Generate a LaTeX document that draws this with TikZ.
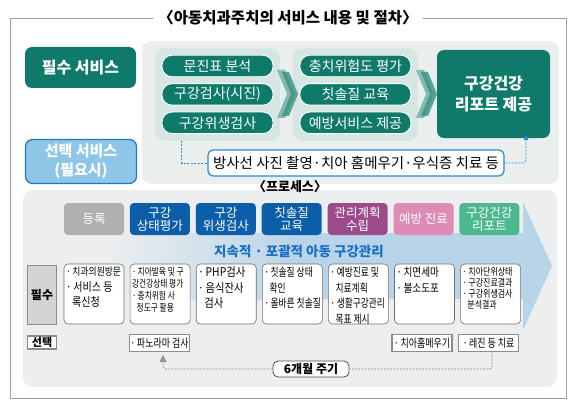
\documentclass[tikz,border=0pt]{standalone}
\usepackage{fontspec}
\setmainfont{Noto Sans CJK KR}
\usepackage{graphicx}
\usetikzlibrary{arrows.meta,positioning,fit,backgrounds}
\definecolor{framegray}{RGB}{160,160,160}
\definecolor{topgray}  {RGB}{234,238,237}
\definecolor{procgray} {RGB}{236,238,239}
\definecolor{grpteal}  {RGB}{214,230,226}
\definecolor{svcteal}  {RGB}{16,122,106}
\definecolor{chevlt}   {RGB}{128,186,176}
\definecolor{chevdk}   {RGB}{60,145,130}
\definecolor{optfill}  {RGB}{142,198,232}
\definecolor{optline}  {RGB}{32,120,190}
\definecolor{xrayline} {RGB}{40,140,210}
\definecolor{arrowblue}{RGB}{184,212,232}
\definecolor{hdgray}   {RGB}{176,176,176}
\definecolor{hdblue}   {RGB}{12,94,168}
\definecolor{hdpurple} {RGB}{156,74,138}
\definecolor{hdpink}   {RGB}{222,140,182}
\definecolor{hdgreen}  {RGB}{76,184,144}
\definecolor{mottoblue}{RGB}{28,110,196}
\definecolor{cellgray} {RGB}{110,110,110}
\definecolor{boxgray}  {RGB}{140,140,140}
% cell text: [font size]{squeeze}{lines}
\newcommand{\cellt}[3][12]{\makebox[56pt][l]{\scalebox{#2}[1]{%
  \parbox[c][54pt][t]{100pt}{\raggedright\fontsize{#1}{15.5}\selectfont #3}}}}
\newcommand{\squeeze}[1]{\scalebox{0.78}[1]{#1}}
\tikzset{
  titlebox/.style={fill=white,inner xsep=5pt,inner ysep=2pt,
                   font=\bfseries\fontsize{15.5}{17}\selectfont},
  svc/.style={fill=svcteal,rounded corners=7pt,text=white,align=center,
              inner sep=0pt,font=\bfseries\fontsize{16}{18}\selectfont},
  optsvcbox/.style={svc,fill=optfill,draw=optline,line width=1.2pt,
                    font=\bfseries\fontsize{15}{19}\selectfont},
  pill/.style={draw=white,line width=0.9pt,fill=svcteal,rounded corners=10pt,
               minimum width=111pt,minimum height=21.5pt,inner sep=0pt,
               text=white,font=\fontsize{14}{15}\selectfont},
  grp/.style={fill=grpteal,rounded corners=9pt,inner sep=6.5pt},
  xraybox/.style={draw=xrayline,line width=1.2pt,fill=white,rounded corners=5pt,
                  minimum width=296pt,minimum height=26pt,inner sep=0pt,
                  font=\fontsize{14.5}{16}\selectfont},
  dashblue/.style={draw=xrayline,line width=0.6pt,dash pattern=on 2pt off 1.5pt},
  hdbox/.style={minimum width=60pt,minimum height=32pt,inner sep=0pt,
                rounded corners=4pt,text=white,align=center,
                font=\fontsize{12.5}{13}\selectfont},
  cell/.style={draw=cellgray,line width=0.6pt,fill=white,rounded corners=4pt,
               minimum width=60pt,minimum height=60pt,inner sep=2pt},
  lblreq/.style={draw=boxgray,line width=1.3pt,fill=black!17,
                 minimum width=29pt,minimum height=59pt,inner sep=0pt,
                 font=\bfseries\fontsize{12}{13}\selectfont},
  lblopt/.style={lblreq,fill=white,minimum height=13pt,
                 font=\bfseries\fontsize{11}{12}\selectfont},
  optbox/.style={draw=boxgray,line width=1.3pt,fill=white,inner sep=0pt,
                 minimum width=60pt,minimum height=17pt,
                 font=\fontsize{11.5}{12}\selectfont},
  cyc/.style={draw=black!70,line width=0.8pt,fill=white,rounded corners=5pt,
              minimum width=76pt,minimum height=16pt,inner sep=0pt,
              font=\bfseries\fontsize{12}{13}\selectfont},
  dashgray/.style={draw=black!45,line width=0.6pt,dash pattern=on 2pt off 1.2pt,
                   rounded corners=3pt},
}

\begin{document}
\begin{tikzpicture}[x=1pt,y=-1pt]
  \useasboundingbox (0,0) rectangle (575,409);

  % Services
  \node[svc,minimum width=111pt,minimum height=41pt](reqsvc) at (80.5,67.5) {필수 서비스};
  \node[optsvcbox,minimum width=111pt,minimum height=44pt](optsvc) at (81,161.5) {선택 서비스\\(필요시)};

  % Column 1
  \node[pill](p1) at (217.5,66)    {문진표 분석};
  \node[pill,below=6pt of p1](p2)  {구강검사(시진)};
  \node[pill,below=6pt of p2](p3)  {구강위생검사};
  % Column 2
  \node[pill,right=26pt of p1](p4) {충치위험도 평가};
  \node[pill,below=6pt of p4](p5)  {칫솔질 교육};
  \node[pill,below=6pt of p5](p6)  {예방서비스 제공};
  % Report
  \node[svc,minimum width=113pt,minimum height=88pt,
        font=\bfseries\fontsize{16}{21}\selectfont](report) at (493.5,94) {구강건강\\리포트 제공};

  \begin{scope}[on background layer]
    \draw[framegray,line width=0.8pt] (10,18) rectangle (566,398);
    \fill[topgray,rounded corners=9pt] (142,41) rectangle (559,184);
    \node[grp,fit=(p1)(p3)](grpA) {};
    \node[grp,fit=(p4)(p6)](grpB) {};
  \end{scope}
  \node[titlebox](title) at (288,18) {〈아동치과주치의 서비스 내용 및 절차〉};

  % chevrons
  \foreach \cx in {277,416}{
    \fill[chevlt] (\cx,70) -- ++(8,0) -- ++(10,24) -- ++(-10,24) -- ++(-8,0) -- ++(10,-24) -- cycle;
    \fill[chevdk,opacity=0.8] (\cx+5,72) -- ++(7,0) -- ++(9,22) -- ++(-9,22) -- ++(-7,0) -- ++(9,-22) -- cycle;
  }

  % Optional line
  \node[xraybox](xray) at (356,163) {방사선 사진 촬영·치아 홈메우기·우식증 치료 등};
  \draw[dashblue] ([xshift=-36pt]grpA.south) |- (xray.west);
  \draw[dashblue,-{Latex[length=6pt,width=5pt]},rounded corners=3pt]
    (xray.east) -| ([xshift=32.5pt,yshift=4pt]report.south);

  % Process panel
  \fill[procgray,rounded corners=10pt] (23,190) rectangle (557,387);
  \node[font=\bfseries\fontsize{13}{14}\selectfont](ptitle) at (290,187) {〈프로세스〉};

  % Big arrow
  \shade[left color=procgray,right color=arrowblue] (110,233) rectangle (300.5,299);
  \fill[arrowblue] (300,233) -- (523,233) -- (523,202) -- (552,266)
    -- (523,330) -- (523,299) -- (300,299) -- cycle;

  % Steps
  \node[hdbox,fill=hdgray](hd1) at (94,219)     {등록};
  \node[hdbox,fill=hdblue,right=5.5pt of hd1](hd2)   {구강\\상태평가};
  \node[hdbox,fill=hdblue,right=5.5pt of hd2](hd3)   {구강\\위생검사};
  \node[hdbox,fill=hdblue,right=5.5pt of hd3](hd4)   {칫솔질\\교육};
  \node[hdbox,fill=hdpurple,right=5.5pt of hd4](hd5) {관리계획\\수립};
  \node[hdbox,fill=hdpink,right=5.5pt of hd5](hd6)   {예방 진료};
  \node[hdbox,fill=hdgreen,right=5.5pt of hd6](hd7)  {구강건강\\리포트};

  \node[text=mottoblue,font=\bfseries\fontsize{13.5}{15}\selectfont](motto) at (299,251)
    {지속적 · 포괄적 아동 구강관리};

  % Required row
  \node[lblreq](lreq) at (42,295) {필수};
  \node[cell](bx1) at (94,294) {\cellt{0.84}{{\fontsize{10.5}{15.5}\selectfont·\,치과의원방문}\\
    ·\,서비스 등\\\hspace*{0.6em}록신청}};
  \node[cell,right=5.5pt of bx1](bx2) {\cellt[10]{0.77}{\baselineskip=12pt
    ·\,치아발육 및 구\\강건강상태 평가\\·\,충치위험 사\\\hspace*{0.6em}정도구 활용}};
  \node[cell,right=5.5pt of bx2](bx3) {\cellt{0.86}{·\,PHP검사\\·\,음식잔사\\\hspace*{0.6em}검사}};
  \node[cell,right=5.5pt of bx3](bx4) {\cellt[11.5]{0.76}{·\,칫솔질 상태\\\hspace*{0.6em}확인\\·\,올바른 칫솔질}};
  \node[cell,right=5.5pt of bx4](bx5) {\cellt[11.5]{0.76}{·\,예방진료 및\\\hspace*{0.6em}치료계획\\·\,생활구강관리\\\hspace*{0.6em}목표 제시}};
  \node[cell,right=5.5pt of bx5](bx6) {\cellt[11.5]{0.84}{·\,치면세마\\·\,불소도포}};
  \node[cell,right=5.5pt of bx6](bx7) {\cellt[10]{0.8}{\baselineskip=11pt
    ·\,치아단위상태\\·\,구강진료결과\\·\,구강위생검사\\\hspace*{0.6em}분석결과}};

  % Optional row
  \node[lblopt](lopt) at (42,342.5) {선택};
  \node[optbox](op2) at (159.5,343) {\squeeze{·\,파노라마 검사}};
  \node[optbox](op6) at (422,343)   {\squeeze{·\,치아홈메우기}};
  \node[optbox](op7) at (488.5,343) {\squeeze{·\,레진 등 치료}};

  % Cycle
  \node[cyc](cycle) at (311,369) {6개월 주기};
  \draw[dashgray] ([xshift=3.5pt]op7.south) |- (cycle.east);
  \draw[dashgray,-{Triangle[length=7pt,width=7pt,fill=black!40]},shorten >=3pt]
    (cycle.west) -| ([xshift=3.5pt]op2.south);
\end{tikzpicture}
\end{document}
